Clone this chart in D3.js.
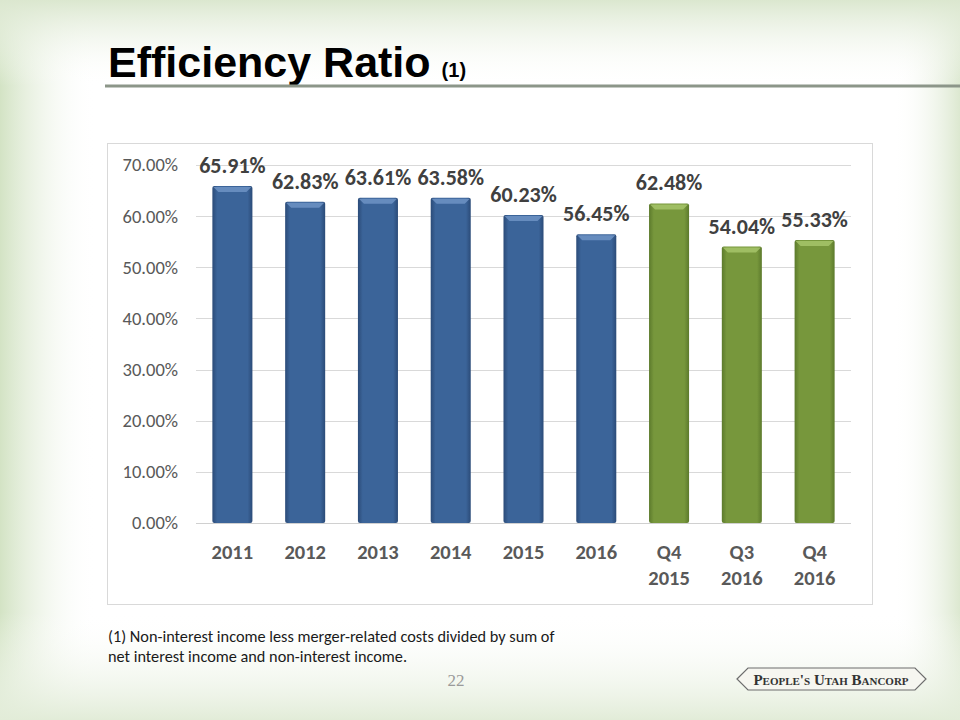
<!DOCTYPE html>
<html><head><meta charset="utf-8">
<script src="https://cdn.jsdelivr.net/npm/d3@7"></script>
<style>body{margin:0;background:#fff}svg{display:block}</style>
</head><body>
<script>
const categories = ["2011","2012","2013","2014","2015","2016","Q4\n2015","Q3\n2016","Q4\n2016"];
const values = [65.91,62.83,63.61,63.58,60.23,56.45,62.48,54.04,55.33];
const groups = ["annual","annual","annual","annual","annual","annual","quarter","quarter","quarter"];
const yTicks = [0,10,20,30,40,50,60,70];
const footnote = ["(1) Non-interest income less merger-related costs divided by sum of","net interest income and non-interest income."];

const W=960,H=720;
const FONT="Carlito, Calibri, Lato, sans-serif";
const svg=d3.select("body").append("svg").attr("width",W).attr("height",H);
const defs=svg.append("defs");

// background vignette
const lg1=defs.append("linearGradient").attr("id","bgL").attr("x1",0).attr("x2",1).attr("y1",0).attr("y2",0);
lg1.append("stop").attr("offset",0).attr("stop-color","#d3e3c4");
lg1.append("stop").attr("offset",0.1).attr("stop-color","#ffffff").attr("stop-opacity",0);
lg1.append("stop").attr("offset",0.93).attr("stop-color","#ffffff").attr("stop-opacity",0);
lg1.append("stop").attr("offset",1).attr("stop-color","#dce8d0");
const lg2=defs.append("linearGradient").attr("id","bgT").attr("x1",0).attr("x2",0).attr("y1",0).attr("y2",1);
lg2.append("stop").attr("offset",0).attr("stop-color","#dbe7cf");
lg2.append("stop").attr("offset",0.12).attr("stop-color","#ffffff").attr("stop-opacity",0);
lg2.append("stop").attr("offset",0.85).attr("stop-color","#ffffff").attr("stop-opacity",0);
lg2.append("stop").attr("offset",1).attr("stop-color","#e2ecd8");
svg.append("rect").attr("width",W).attr("height",H).attr("fill","#fff");
svg.append("rect").attr("width",W).attr("height",H).attr("fill","url(#bgL)");
svg.append("rect").attr("width",W).attr("height",H).attr("fill","url(#bgT)");

// title
const title=svg.append("text").attr("x",108).attr("y",77).attr("font-family","Liberation Sans, Arial, sans-serif").attr("font-weight","bold").attr("fill","#000");
title.append("tspan").attr("font-size",43).text("Efficiency Ratio");
title.append("tspan").attr("font-size",20).attr("dx",11).text("(1)");
svg.append("line").attr("x1",105).attr("x2",960).attr("y1",86).attr("y2",86).attr("stroke","#8c9689").attr("stroke-width",3);

// chart box
svg.append("rect").attr("x",107.5).attr("y",143.5).attr("width",765).attr("height",461).attr("fill","#fff").attr("stroke","#d9d9d9");

const x=d3.scaleBand().domain(categories).range([196,851]).paddingInner(0.45).paddingOuter(0.225);
const y=d3.scaleLinear().domain([0,70]).range([523,165]);

// gridlines
svg.append("g").selectAll("line").data(yTicks).join("line")
 .attr("x1",196).attr("x2",851).attr("y1",d=>Math.round(y(d))+0.5).attr("y2",d=>Math.round(y(d))+0.5)
 .attr("stroke",d=>d===0?"#d0d0d0":"#d9d9d9");

// y axis labels
const yAxis=d3.axisLeft(y).tickValues(yTicks).tickSize(0).tickPadding(0).tickFormat(d=>d.toFixed(2)+"%");
const ya=svg.append("g").attr("transform","translate(178,0)").call(yAxis);
ya.select(".domain").remove();
ya.selectAll("text").attr("font-family",FONT).attr("font-size",18.5).attr("fill","#595959");

// gradients for bars
function barGrad(id,dark,mid){
  const g=defs.append("linearGradient").attr("id",id).attr("x1",0).attr("x2",1).attr("y1",0).attr("y2",0);
  g.append("stop").attr("offset",0).attr("stop-color",dark);
  g.append("stop").attr("offset",0.12).attr("stop-color",mid);
  g.append("stop").attr("offset",0.88).attr("stop-color",mid);
  g.append("stop").attr("offset",1).attr("stop-color",dark);
}
barGrad("gBlue","#2b4b78","#3b6499");
barGrad("gGreen","#5c7a2c","#77973c");
const fills={annual:"url(#gBlue)",quarter:"url(#gGreen)"};
const tops={annual:"#6f93c4",quarter:"#a6c46a"};

const data=categories.map((c,i)=>({c,v:values[i],g:groups[i]}));
const bars=svg.append("g");
bars.selectAll("rect.bar").data(data).join("rect").attr("class","bar")
 .attr("x",d=>x(d.c)).attr("width",x.bandwidth()).attr("y",d=>y(d.v)).attr("height",d=>y(0)-y(d.v))
 .attr("fill",d=>fills[d.g]).attr("rx",2);
bars.selectAll("path.top").data(data).join("path").attr("class","top")
 .attr("d",d=>{const x0=x(d.c),w=x.bandwidth(),t=y(d.v);return `M${x0+1},${t+1}L${x0+w-1},${t+1}L${x0+w-6},${t+6}L${x0+6},${t+6}Z`;})
 .attr("fill",d=>tops[d.g]).attr("opacity",0.85);

// value labels
svg.append("g").selectAll("text").data(data).join("text")
 .attr("x",d=>x(d.c)+x.bandwidth()/2).attr("y",d=>y(d.v)-13)
 .attr("text-anchor","middle").attr("font-family",FONT).attr("font-weight","bold")
 .attr("font-size",22).attr("fill","#404040").text(d=>d.v.toFixed(2)+"%");

// x labels
const xl=svg.append("g").selectAll("text").data(categories).join("text")
 .attr("x",d=>x(d)+x.bandwidth()/2).attr("y",559).attr("text-anchor","middle")
 .attr("font-family",FONT).attr("font-weight","bold").attr("font-size",20.5).attr("fill","#595959");
xl.each(function(d){const t=d3.select(this);d.split("\n").forEach((s,i)=>t.append("tspan").attr("x",x(d)+x.bandwidth()/2).attr("dy",i?26:0).text(s));});

// footnote
svg.append("g").selectAll("text").data(footnote).join("text").attr("x",108).attr("y",(d,i)=>642+i*20)
 .attr("font-family",FONT).attr("font-size",16.3).attr("fill","#1a1a1a").text(d=>d);

svg.append("text").attr("x",456).attr("y",686).attr("text-anchor","middle").attr("font-family","Liberation Serif, serif").attr("font-size",17).attr("fill","#9a9a9a").text("22");

// logo
const lg=svg.append("g");
lg.append("path").attr("d","M737,679 L748,668 L915,668 L926,679 L915,690 L748,690 Z").attr("fill","#f6f6f0").attr("stroke","#6d6d6d").attr("stroke-width",1.2);
lg.append("text").attr("x",831).attr("y",685).attr("text-anchor","middle").attr("font-family","Liberation Serif, serif").attr("font-weight","bold").attr("font-size",15).attr("fill","#333").style("font-variant","small-caps").text("People's Utah Bancorp");
</script>
</body></html>
